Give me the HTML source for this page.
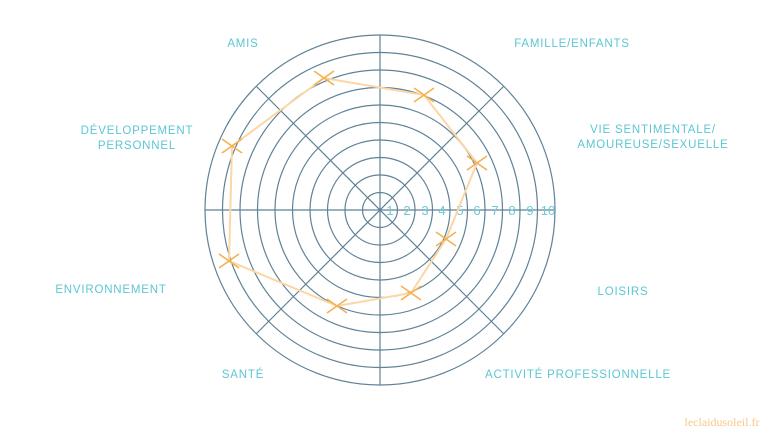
<!DOCTYPE html>
<html><head><meta charset="utf-8"><style>
html,body{margin:0;padding:0;background:#fff;width:768px;height:432px;overflow:hidden}
svg{display:block}
.l{font-family:"Liberation Sans",sans-serif;font-size:11.5px;fill:#5cc6d3;letter-spacing:0.8px}
.n{font-family:"Liberation Sans",sans-serif;font-size:13px;fill:#6ccbd6}
</style></head><body>
<svg width="768" height="432" viewBox="0 0 768 432">
<g fill="none" stroke="#5f8297" stroke-width="1.2">
<circle cx="380" cy="210" r="17.5"/><circle cx="380" cy="210" r="35"/><circle cx="380" cy="210" r="52.5"/><circle cx="380" cy="210" r="70"/><circle cx="380" cy="210" r="87.5"/><circle cx="380" cy="210" r="105"/><circle cx="380" cy="210" r="122.5"/><circle cx="380" cy="210" r="140"/><circle cx="380" cy="210" r="157.5"/><circle cx="380" cy="210" r="175"/>
<line x1="380" y1="35" x2="380" y2="385"/>
<line x1="205" y1="210" x2="555" y2="210"/>
<line x1="256" y1="86" x2="504" y2="334"/>
<line x1="504" y1="86" x2="256" y2="334"/>
</g>
<g class="n" text-anchor="middle">
<text x="390" y="215">1</text><text x="407" y="215">2</text><text x="425" y="215">3</text><text x="442" y="215">4</text><text x="460" y="215">5</text><text x="477" y="215">6</text><text x="495" y="215">7</text><text x="512" y="215">8</text><text x="530" y="215">9</text><text x="548" y="215">10</text>
</g>
<polyline fill="none" stroke="#fcd6a4" stroke-width="2" points="232,146 324,78 424,95 477,163 446,239 411,293 337,306 229,261 232,146"/>
<g stroke="#f6b052" stroke-width="1.6">
<path d="M222,139l20,14M242,139l-20,14"/>
<path d="M314,71l20,14M334,71l-20,14"/>
<path d="M414,88l20,14M434,88l-20,14"/>
<path d="M467,156l20,14M487,156l-20,14"/>
<path d="M436,232l20,14M456,232l-20,14"/>
<path d="M401,286l20,14M421,286l-20,14"/>
<path d="M327,299l20,14M347,299l-20,14"/>
<path d="M219,254l20,14M239,254l-20,14"/>
</g>
<g class="l" text-anchor="middle">
<text x="243" y="47">AMIS</text>
<text x="572" y="47">FAMILLE/ENFANTS</text>
<text x="653" y="133">VIE SENTIMENTALE/</text>
<text x="653" y="148">AMOUREUSE/SEXUELLE</text>
<text x="137" y="134">DÉVELOPPEMENT</text>
<text x="137" y="149">PERSONNEL</text>
<text x="111" y="293">ENVIRONNEMENT</text>
<text x="623" y="295">LOISIRS</text>
<text x="243" y="378">SANTÉ</text>
<text x="578" y="378">ACTIVITÉ PROFESSIONNELLE</text>
</g>
<text x="722" y="426" text-anchor="middle" font-family="Liberation Serif,serif" font-size="12" fill="#f8c98a">leclaidusoleil.fr</text>
</svg>
</body></html>
